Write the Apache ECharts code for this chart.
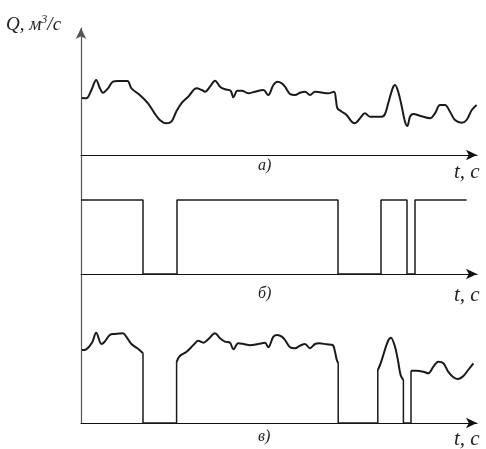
<!DOCTYPE html>
<html>
<head>
<meta charset="utf-8">
<script src="https://cdn.jsdelivr.net/npm/echarts@6/dist/echarts.min.js"></script>
<style>
html,body{margin:0;padding:0;background:#fff;}
#chart{width:486px;height:449px;}
</style>
</head>
<body>
<div id="chart"></div>
<script>
// ---- data (t in arbitrary time units, Q in arbitrary flow units) ----
// Panel а): original discharge
var aT = [0.25,1.3,2.6,3.8,4.7,5.5,6.75,8,9.25,11.6,12.6,14.7,16.75,18.4,19.7,21.3,22.6,23.8,25.1,26.8,28.9,30.2,31,32.25,33.5,34.75,36,37.4,38.1,39.1,40.2,41.8,43.5,45.6,46.8,48.1,49.1,50.2,51,52.25,53.5,54.75,56,57.25,58.5,59.75,61.8,63.25,63.75,64.1,65.2,66.4,67.7,68.5,69.75,71,72.25,73.5,75.2,76,76.8,77.9,78.5,79.3,80.2,81,81.6,82.25,83.1,84.75,87.25,88.5,89.75,91,92.25,93.5,95.2,96.4,97.7,98.9];
var aQ = [57,56.7,65,75,67,62.3,66.7,73.3,74,74,66.7,60,51.7,41.7,35,31.7,33.3,43.3,51.7,58.3,66.7,65,63.3,68.3,74.3,68.3,65.7,64.3,57.7,64.3,64.3,61.7,63.3,65,60,70,73.3,71.7,68.3,61,60,62.3,63.3,60,63.3,62.7,61.7,63.3,55,46.7,43.3,40,33.3,31.7,36.7,41.7,38.3,38.3,38.3,41,51.7,66.7,70,63.3,48.3,33.3,29,38.3,41,39.3,36.7,41.7,50,50,43.3,35,32.3,35,45,50];

// Panel б): on/off switching (1 = on, 0 = off)
var bSwitchT = [15.5,24,64.25,75,81.5,83.5];
var bStartState = 1;
var bEndT = 96.4;

// Panel в): resulting discharge, on-intervals
var c1T = [0.25,1.3,2.75,3.8,5.1,5.9,7.2,8.4,10.5,11.6,12.6,14.1,15.5];
var c1Q = [73,73.7,80.3,90.3,79,81.3,88,89,89.7,84.7,79,74.7,69.7];
var c2T = [23.9,24.7,26.4,28.1,29.3,30.6,31.8,33.5,34.75,36,37.25,38.1,39.3,40.6,42.25,44.3,46,46.8,48.1,49.1,50.2,51,52.25,53.5,54.75,56,57.25,58.5,59.6,61.4,62.9,63.5,63.9,64.3];
var c2Q = [61,67,71.3,78,82.3,80.3,83.7,89.7,84.7,81.3,80.3,73.7,79.7,79,77.7,79,80.3,75.7,86.3,88,86.3,83,75.7,74.7,77.3,79,74.7,79,79.7,78.7,78,71.3,63.7,59.7];
var c3T = [74.2,74.75,77.5,78.5,79.3,79.9,80.6];
var c3Q = [53,58,85.3,76.3,61.3,48,43];
var c4T = [82.5,83.9,85.6,86.8,88.1,89.3,90.6,91.8,93.1,94.3,95.6,96.8,98.1];
var c4Q = [52.3,52.3,51.3,49.7,56.3,61.3,59.7,51.3,45.7,44,47,53,59.7];

var labels = ['а)', 'б)', 'в)'];
var tName = 't, с';

// ---- build ----
function zip(t, q){ return t.map(function(v,i){ return [v, q[i]]; }); }

var bData = [[0, bStartState]];
var st = bStartState;
bSwitchT.forEach(function(t){ bData.push([t, st]); st = 1 - st; bData.push([t, st]); });
bData.push([bEndT, st]);

var cSegs = [[c1T,c1Q],[c2T,c2Q],[c3T,c3Q],[c4T,c4Q]];
var gateSeries = [];
for (var i = 0; i < cSegs.length - 1; i++) {
  var a = cSegs[i], b = cSegs[i+1];
  var ta = a[0][a[0].length-1], qa = a[1][a[1].length-1];
  var tb = b[0][0], qb = b[1][0];
  gateSeries.push([[ta,qa],[ta,0],[tb,0],[tb,qb]]);
}

var LEFT = 81, W = 396, XMAX = 99;
var ink = '#1a1a1a';
var lineW = 2;

function xAx(idx, show){
  return {
    type:'value', gridIndex: idx, min:0, max:XMAX, show: show,
    axisLine:{show:true, lineStyle:{color:'#111', width:1.2}, symbol:['none','arrow'], symbolSize:[8,11]},
    axisTick:{show:false}, axisLabel:{show:false}, splitLine:{show:false}
  };
}
function yAx(idx, max){
  return {type:'value', gridIndex: idx, min:0, max:max, show:false, splitLine:{show:false}};
}

var series = [];
series.push({type:'line', xAxisIndex:0, yAxisIndex:0, data: zip(aT,aQ), smooth:0.35, showSymbol:false, lineStyle:{color:ink, width:lineW}});
series.push({type:'line', xAxisIndex:1, yAxisIndex:1, data: bData, smooth:false, showSymbol:false, lineStyle:{color:ink, width:1.5}});
cSegs.forEach(function(s){
  series.push({type:'line', xAxisIndex:2, yAxisIndex:2, data: zip(s[0],s[1]), smooth:0.35, showSymbol:false, lineStyle:{color:ink, width:lineW}});
});
gateSeries.forEach(function(g){
  series.push({type:'line', xAxisIndex:2, yAxisIndex:2, data: g, smooth:false, showSymbol:false, lineStyle:{color:ink, width:1.5}});
});

var serif = 'Liberation Serif';
function txt(x, y, s, size){
  return {type:'text', left:x, top:y, style:{text:s, fontFamily:serif, fontStyle:'italic', fontSize:size, fill:'#222'}};
}

var option = {
  animation:false,
  backgroundColor:'#fff',
  grid:[
    {left:LEFT, width:W, top:30, height:125},
    {left:LEFT, width:W, top:180, height:94},
    {left:LEFT, width:W, top:300, height:123},
    {left:LEFT, width:W, top:28, height:395}
  ],
  xAxis:[xAx(0,true), xAx(1,true), xAx(2,true), {type:'value', gridIndex:3, min:0, max:XMAX, show:false}],
  yAxis:[yAx(0,125), yAx(1,94/74), yAx(2,123), {
    type:'value', gridIndex:3, min:0, max:1, show:true,
    axisLine:{show:true, lineStyle:{color:'#555', width:1.2}, symbol:['none','arrow'], symbolSize:[8,11]},
    axisTick:{show:false}, axisLabel:{show:false}, splitLine:{show:false}
  }],
  series: series,
  graphic:[
    {type:'text', left:6, top:14, style:{
      text:'{q|Q, м}{s|3}{q|/с}',
      rich:{
        q:{fontFamily:serif, fontStyle:'italic', fontSize:19, fill:'#222'},
        s:{fontFamily:serif, fontStyle:'italic', fontSize:12, fill:'#222', verticalAlign:'top', padding:[0,0,10,0]}
      }
    }},
    txt(258, 158, labels[0], 16),
    txt(258, 286, labels[1], 16),
    txt(258, 429, labels[2], 16),
    txt(454, 162, tName, 21),
    txt(454, 285, tName, 21),
    txt(454, 429, tName, 21)
  ]
};
var chart = echarts.init(document.getElementById('chart'), null, {renderer:'canvas'});
chart.setOption(option);
</script>
</body>
</html>
